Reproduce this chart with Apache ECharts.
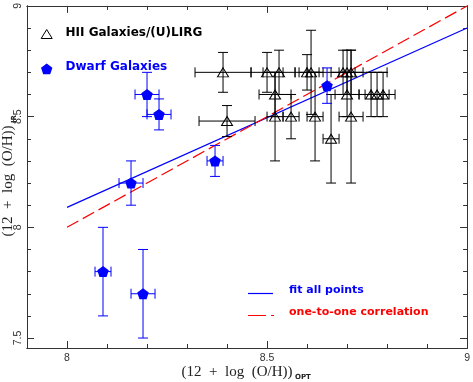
<!DOCTYPE html>
<html><head><meta charset="utf-8">
<script src="https://cdn.jsdelivr.net/npm/echarts@6/dist/echarts.min.js"></script>
<style>html,body{margin:0;padding:0;background:#fff}#c{width:473px;height:382px}</style>
</head><body><div id="c"></div>
<script>
// HII Galaxies/(U)LIRG
const hiiX    = [8.39, 8.40, 8.50, 8.53, 8.52, 8.52, 8.56, 8.60, 8.61, 8.62, 8.66, 8.69, 8.70, 8.71, 8.70, 8.71, 8.76, 8.775, 8.79];
const hiiY    = [8.70, 8.48, 8.70, 8.70, 8.60, 8.50, 8.50, 8.70, 8.70, 8.50, 8.40, 8.70, 8.70, 8.70, 8.60, 8.50, 8.60, 8.60, 8.60];
const hiiXErr = [0.07, 0.07, 0.04, 0.04, 0.04, 0.02, 0.02, 0.03, 0.03, 0.02, 0.02, 0.03, 0.10, 0.03, 0.03, 0.03, 0.03, 0.03, 0.03];
const hiiYErr = [0.09, 0.07, 0.09, 0.10, 0.10, 0.20, 0.10, 0.08, 0.19, 0.20, 0.20, 0.10, 0.10, 0.10, 0.10, 0.30, 0.10, 0.10, 0.10];
// Dwarf Galaxies
const dwarfX    = [8.20, 8.23, 8.37, 8.16, 8.09, 8.19, 8.65];
const dwarfY    = [8.60, 8.51, 8.30, 8.20, 7.80, 7.70, 8.64];
const dwarfXErr = [0.03, 0.03, 0.02, 0.03, 0.02, 0.03, 0.00];
const dwarfYErr = [0.10, 0.07, 0.07, 0.10, 0.20, 0.20, 0.08];
// lines
const fitX = [8.0, 9.0];
const fitY = [8.09, 8.90];
const oneX = [8.0, 9.0];
const oneY = [8.0, 9.0];
// ticks
const xMajor = [8, 8.5, 9];
const xMinor = [8.1, 8.2, 8.3, 8.4, 8.6, 8.7, 8.8, 8.9];
const yMajor = [7.5, 8, 8.5, 9];
const yMinor = [7.6, 7.7, 7.8, 7.9, 8.1, 8.2, 8.3, 8.4, 8.6, 8.7, 8.8, 8.9];
const legendTop = ['HII Galaxies/(U)LIRG', 'Dwarf Galaxies'];
const legendBottom = ['fit all points', 'one-to-one correlation'];

const BLUE = '#0000ff', RED = '#ff0000', BLK = '#000000', AX = '#333333';
const chart = echarts.init(document.getElementById('c'));

function zip(a, b, c, d) { return a.map((v, i) => [v, b[i], c[i], d[i]]); }
function errRender(color) {
  return function (params, api) {
    const x = api.value(0), y = api.value(1), dx = api.value(2), dy = api.value(3);
    const cap = 5;
    const st = { stroke: color, lineWidth: 1, fill: null };
    const ch = [];
    const seg = (p, q) => ch.push({ type: 'line', shape: { x1: p[0], y1: p[1], x2: q[0], y2: q[1] }, style: st });
    if (dx > 0) {
      const l = api.coord([x - dx, y]), r = api.coord([x + dx, y]);
      seg(l, r);
      seg([l[0], l[1] - cap], [l[0], l[1] + cap]);
      seg([r[0], r[1] - cap], [r[0], r[1] + cap]);
    }
    if (dy > 0) {
      const t = api.coord([x, y + dy]), b = api.coord([x, y - dy]);
      seg(t, b);
      seg([t[0] - cap, t[1]], [t[0] + cap, t[1]]);
      seg([b[0] - cap, b[1]], [b[0] + cap, b[1]]);
    }
    return { type: 'group', children: ch };
  };
}
function xAx(pos, ticks, len, labels) {
  return {
    type: 'value', min: 7.9, max: 9.0, position: pos,
    axisLine: { show: true, onZero: false, lineStyle: { color: AX, width: 1 } },
    axisTick: { show: true, inside: true, length: len, customValues: ticks, lineStyle: { color: AX } },
    axisLabel: labels ? { show: true, customValues: ticks, margin: 5, color: '#333', fontFamily: 'Liberation Sans', fontSize: 10.5, formatter: v => String(v) } : { show: false },
    splitLine: { show: false }
  };
}
function yAx(pos, ticks, len, labels) {
  return {
    type: 'value', min: 7.455, max: 9.0, position: pos,
    axisLine: { show: true, onZero: false, lineStyle: { color: AX, width: 1 } },
    axisTick: { show: true, inside: true, length: len, customValues: ticks, lineStyle: { color: AX } },
    axisLabel: labels ? { show: true, customValues: ticks, rotate: 90, margin: 3, color: '#333', fontFamily: 'Liberation Sans', fontSize: 10.5, formatter: v => String(v) } : { show: false },
    splitLine: { show: false }
  };
}
const pentagon = 'path://M0,-1 L0.951,-0.309 L0.588,0.809 L-0.588,0.809 L-0.951,-0.309 Z';

const option = {
  animation: false,
  backgroundColor: '#fff',
  grid: { left: 27, right: 2, top: 2, bottom: 34, containLabel: false },
  xAxis: [xAx('bottom', xMajor, 7, true), xAx('bottom', xMinor, 4, false), xAx('top', xMajor, 7, false), xAx('top', xMinor, 4, false)],
  yAxis: [yAx('left', yMajor, 7, true), yAx('left', yMinor, 4, false), yAx('right', yMajor, 7, false), yAx('right', yMinor, 4, false)],
  series: [
    { type: 'line', data: fitX.map((v, i) => [v, fitY[i]]), symbol: 'none', lineStyle: { color: BLUE, width: 1.2 }, z: 3 },
    { type: 'line', data: oneX.map((v, i) => [v, oneY[i]]), symbol: 'none', lineStyle: { color: RED, width: 1.2, type: [13, 5] }, z: 3 },
    { type: 'custom', renderItem: errRender(BLK), data: zip(hiiX, hiiY, hiiXErr, hiiYErr), encode: { x: 0, y: 1 }, z: 4 },
    { type: 'custom', renderItem: errRender(BLUE), data: zip(dwarfX, dwarfY, dwarfXErr, dwarfYErr), encode: { x: 0, y: 1 }, z: 4 },
    { type: 'scatter', data: hiiX.map((v, i) => [v, hiiY[i]]), symbol: 'triangle', symbolSize: [11, 9],
      itemStyle: { color: 'rgba(0,0,0,0)', borderColor: BLK, borderWidth: 1, opacity: 1 }, z: 5 },
    { type: 'scatter', data: dwarfX.map((v, i) => [v, dwarfY[i]]), symbol: pentagon, symbolSize: [11.5, 11],
      itemStyle: { color: BLUE, opacity: 1 }, z: 5 }
  ],
  graphic: [
    { type: 'polygon', shape: { points: [[41.2, 38.5], [52.2, 38.5], [46.7, 29.5]] }, style: { fill: 'none', stroke: BLK, lineWidth: 1 } },
    { type: 'text', x: 65.5, y: 33, style: { text: legendTop[0], font: 'bold 12px "DejaVu Sans"', fill: BLK, textAlign: 'left', textVerticalAlign: 'middle' } },
    { type: 'polygon', shape: { points: [[46.7, 63.5], [52.4, 67.7], [50.2, 74.3], [43.2, 74.3], [41.0, 67.7]] }, style: { fill: BLUE, stroke: null } },
    { type: 'text', x: 65.5, y: 66.5, style: { text: legendTop[1], font: 'bold 12px "DejaVu Sans"', fill: BLUE, textAlign: 'left', textVerticalAlign: 'middle' } },
    { type: 'line', shape: { x1: 248, y1: 293.5, x2: 273, y2: 293.5 }, style: { stroke: BLUE, lineWidth: 1.2 } },
    { type: 'text', x: 289, y: 290.5, style: { text: legendBottom[0], font: 'bold 11px "DejaVu Sans"', fill: BLUE, textAlign: 'left', textVerticalAlign: 'middle' } },
    { type: 'line', shape: { x1: 248, y1: 315.5, x2: 274, y2: 315.5 }, style: { stroke: RED, lineWidth: 1.2, lineDash: [18, 5] } },
    { type: 'text', x: 289, y: 312.5, style: { text: legendBottom[1], font: 'bold 11px "DejaVu Sans"', fill: RED, textAlign: 'left', textVerticalAlign: 'middle' } },
    { type: 'text', x: 237, y: 372, style: { text: '(12  +  log  (O/H))', font: '15px "Liberation Serif"', fill: '#222', textAlign: 'center', textVerticalAlign: 'middle' } },
    { type: 'text', x: 295, y: 377, style: { text: 'OPT', font: 'bold 7px "DejaVu Sans"', fill: '#222', textAlign: 'left', textVerticalAlign: 'middle' } },
    { type: 'text', x: 8, y: 181, rotation: Math.PI / 2, style: { text: '(12  +  log  (O/H))', font: '15px "Liberation Serif"', fill: '#222', textAlign: 'center', textVerticalAlign: 'middle' } },
    { type: 'text', x: 14, y: 123, rotation: Math.PI / 2, style: { text: 'IR', font: 'bold 7px "DejaVu Sans"', fill: '#222', textAlign: 'left', textVerticalAlign: 'middle' } }
  ]
};
chart.setOption(option);
</script></body></html>
